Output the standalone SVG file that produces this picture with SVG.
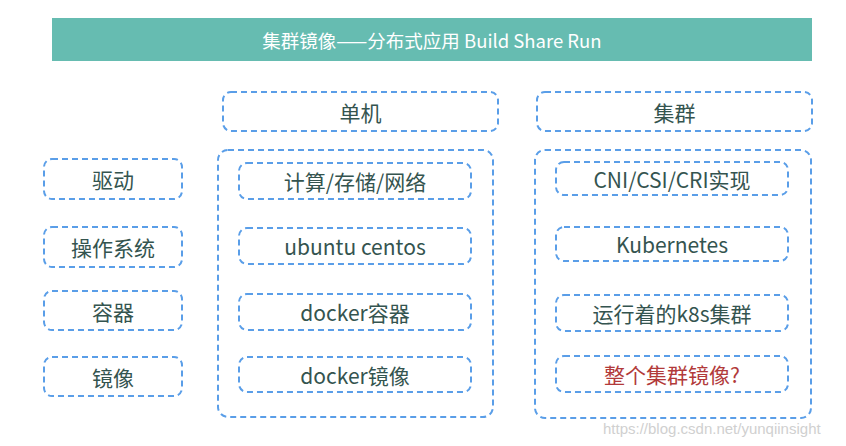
<svg xmlns="http://www.w3.org/2000/svg" width="846" height="446" viewBox="0 0 846 446">
<style>
.box{fill:#ffffff;stroke:#5a9ee8;stroke-width:2;stroke-dasharray:6 4;}
.t{font-family:"Noto Sans CJK SC","Liberation Sans",sans-serif;font-size:21px;fill:#34544f;text-anchor:middle;dominant-baseline:central;}
.red{fill:#b23a3a;}
.title{font-family:"Noto Sans CJK SC","Liberation Sans",sans-serif;font-size:18.500px;fill:#ffffff;text-anchor:middle;dominant-baseline:central;}
.wm{font-family:"Liberation Sans",sans-serif;font-size:15px;fill:#d0d0d0;}
</style>
<rect width="846" height="446" fill="#ffffff"/>
<g id="title">
<rect x="52" y="18" width="760" height="43" fill="#66bcb1"/>
<text class="title" x="432" y="39.500">集群镜像——分布式应用 Build Share Run</text>
</g>
<g id="header-single"><rect class="box" x="223" y="92" width="275" height="39" rx="8"/><text class="t" x="360.500" y="111.500">单机</text></g>
<g id="header-cluster"><rect class="box" x="537" y="92" width="275" height="39" rx="8"/><text class="t" x="674.500" y="111.500">集群</text></g>
<g id="left-driver"><rect class="box" x="44" y="159" width="138" height="40" rx="8"/><text class="t" x="113" y="179">驱动</text></g>
<g id="left-os"><rect class="box" x="44" y="227" width="138" height="40" rx="8"/><text class="t" x="113" y="247">操作系统</text></g>
<g id="left-container"><rect class="box" x="44" y="291" width="138" height="39" rx="8"/><text class="t" x="113" y="310.500">容器</text></g>
<g id="left-image"><rect class="box" x="44" y="357" width="138" height="39" rx="8"/><text class="t" x="113" y="376.500">镜像</text></g>
<g id="single-group">
<rect class="box" x="218" y="150" width="275" height="267" rx="10"/>
</g>
<g id="single-compute"><rect class="box" x="239" y="163" width="232" height="36" rx="8"/><text class="t" x="355" y="181">计算/存储/网络</text></g>
<g id="single-os"><rect class="box" x="239" y="228" width="232" height="36" rx="8"/><text class="t" x="355" y="246">ubuntu centos</text></g>
<g id="single-docker-container"><rect class="box" x="239" y="294" width="232" height="36" rx="8"/><text class="t" x="355" y="312">docker容器</text></g>
<g id="single-docker-image"><rect class="box" x="239" y="357" width="232" height="35" rx="8"/><text class="t" x="355" y="374.500">docker镜像</text></g>
<g id="cluster-group">
<rect class="box" x="535" y="150" width="276" height="268" rx="10"/>
</g>
<g id="cluster-cni"><rect class="box" x="556" y="162" width="232" height="33" rx="8"/><text class="t" x="672" y="178.500">CNI/CSI/CRI实现</text></g>
<g id="cluster-k8s"><rect class="box" x="556" y="227" width="232" height="34" rx="8"/><text class="t" x="672" y="244">Kubernetes</text></g>
<g id="cluster-running"><rect class="box" x="556" y="295" width="232" height="36" rx="8"/><text class="t" x="672" y="313">运行着的k8s集群</text></g>
<g id="cluster-image"><rect class="box" x="556" y="356" width="232" height="36" rx="8"/><text class="t red" x="672" y="374">整个集群镜像?</text></g>
<g id="connectors"></g>
<text class="wm" x="603" y="434">https://blog.csdn.net/yunqiinsight</text>
</svg>
